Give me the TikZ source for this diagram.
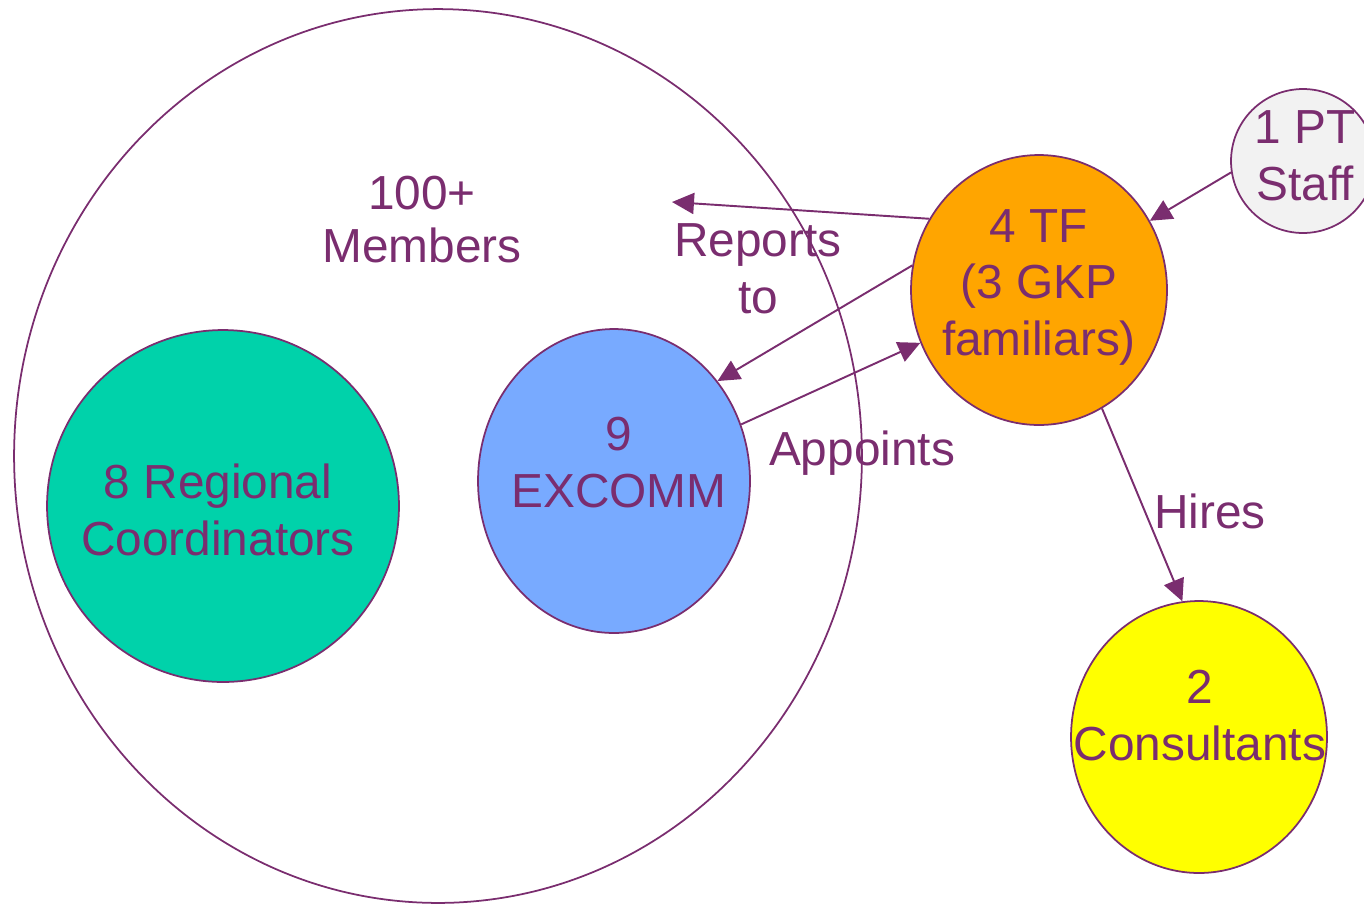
\documentclass[tikz,border=0pt]{standalone}
\usepackage{fontspec}
\setmainfont{Liberation Sans}
\usetikzlibrary{shapes.geometric,arrows.meta}
\definecolor{txtpurple}{HTML}{7A2D6F}
\definecolor{regiongreen}{HTML}{00D2AA}
\definecolor{excommblue}{HTML}{78AAFF}
\definecolor{tforange}{HTML}{FFA500}
\definecolor{staffgray}{HTML}{F2F2F2}
\definecolor{consyellow}{HTML}{FFFF00}

\begin{document}
\begin{tikzpicture}[x=0.02cm, y=-0.02cm,
    every node/.style={text=txtpurple, font=\fontsize{27.2}{32}\selectfont},
    blob/.style={ellipse, draw=txtpurple, line width=1pt, inner sep=0pt},
    lbl/.style={anchor=base, align=center, inner sep=0pt},
    link/.style={draw=txtpurple, line width=1.1pt, -{Triangle[length=12.5pt,width=12pt]}}]
\useasboundingbox (0,0) rectangle (1364,904);
% Draw circles
\node[blob, minimum width=16.96cm, minimum height=17.88cm] (members) at (438,456) {};
\node[blob, fill=regiongreen, minimum width=7.04cm, minimum height=7.04cm] (regional) at (223,506) {};
\node[blob, fill=excommblue, minimum width=5.44cm, minimum height=6.08cm] (excomm) at (614,481) {};
\node[blob, fill=tforange, minimum width=5.12cm, minimum height=5.4cm] (tf) at (1039,290) {};
\node[blob, fill=staffgray, minimum width=2.88cm, minimum height=2.88cm] (staff) at (1303,161) {};
\node[blob, fill=consyellow, minimum width=5.12cm, minimum height=5.44cm] (cons) at (1199,737) {};
% Draw texts (base = last line)
\node[lbl] (memberstext) at (422,262) {100+\\[-2pt]Members};
\node[lbl] (regionaltext) at (218,555) {8 Regional\\Coordinators};
\node[lbl] (excommtext) at (619,507) {9\\EXCOMM};
\node[lbl] (tftext) at (1039,355) {4 TF\\(3 GKP\\familiars)};
\node[lbl] (stafftext) at (1305,200) {1 PT\\Staff};
\node[lbl] (constext) at (1200,760) {2\\Consultants};
\node[lbl] (reports) at (758,313) {Reports\\to};
\node[lbl] (appoints) at (862,465) {Appoints};
\node[lbl] (hires) at (1210,528) {Hires};
% Draw arrows
\coordinate (reportsend) at (672,202);
\draw[link] (tf.147) -- (reportsend);
\draw[link] (tf.169) -- (excomm.44);
\draw[link] (excomm.24) -- (tf.204);
\draw[link] (tf.298) -- (cons.97);
\draw[link] (staff.189) -- (tf.32);
\end{tikzpicture}
\end{document}
